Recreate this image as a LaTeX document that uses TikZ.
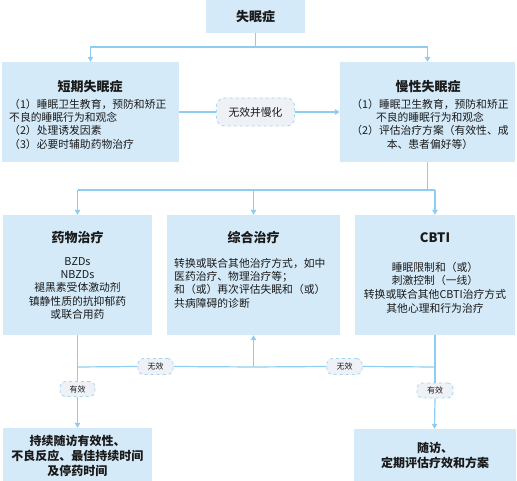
\documentclass[tikz,border=0pt]{standalone}
\usepackage{fontspec}
\setmainfont{Noto Sans CJK SC}
\usetikzlibrary{arrows.meta}
\definecolor{boxfill}{HTML}{D4EAF8}
\definecolor{linec}{HTML}{8FCCF2}
\definecolor{labfill}{HTML}{EEF2F6}
\definecolor{labdraw}{HTML}{A6D5F4}
\definecolor{txt}{HTML}{1A1A1A}
\begin{document}
\begin{tikzpicture}[x=1pt,y=-1pt,
  box/.style={fill=boxfill,draw=none,inner sep=0pt},
  ttl/.style={font=\fontsize{13}{15}\selectfont\bfseries,text=txt,inner sep=0pt},
  btm/.style={font=\fontsize{12}{15}\selectfont\bfseries,text=txt,inner sep=0pt,align=center},
  body/.style={font=\fontsize{10.8}{13.3}\selectfont,text=txt,inner sep=0pt},
  conn/.style={draw=linec,line width=1.2pt},
  arr/.style={conn,-{Triangle[length=5pt,width=5.5pt]}},
  lab/.style={fill=labfill,draw=labdraw,dashed,line width=0.8pt,inner sep=0pt,text=txt},
]
\path[use as bounding box] (0,0) rectangle (517,481);

% boxes
\node[box,ttl,minimum width=99pt,minimum height=33pt] (top) at (255.5,16.5) {失眠症};
\node[box,minimum width=177pt,minimum height=100pt] (short) at (90.5,112) {};
\node[box,minimum width=175pt,minimum height=100pt] (chronic) at (427.5,112) {};
\node[box,minimum width=149pt,minimum height=120pt] (drug) at (77.5,275) {};
\node[box,minimum width=173pt,minimum height=120pt] (comb) at (253.5,275) {};
\node[box,minimum width=160pt,minimum height=120pt] (cbti) at (435,275) {};
\node[box,minimum width=149pt,minimum height=53pt] (fl) at (77.5,454.5) {};
\node[box,minimum width=162pt,minimum height=52pt] (fr) at (434.5,455) {};

% titles and texts
\node[ttl] (shortT) at (90,87) {短期失眠症};
\node[body,align=left,anchor=west] (shortB) at (9,124) {（1）睡眠卫生教育，预防和矫正\\不良的睡眠行为和观念\\（2）处理诱发因素\\（3）必要时辅助药物治疗};
\node[ttl] (chronT) at (428,87) {慢性失眠症};
\node[body,align=center] (chronB) at (430,124) {（1）睡眠卫生教育，预防和矫正\\不良的睡眠行为和观念\\（2）评估治疗方案（有效性、成\\本、患者偏好等）};

\node[ttl] (drugT) at (77.5,238) {药物治疗};
\node[body,align=center] (drugB) at (77.5,288.5) {BZDs\\NBZDs\\褪黑素受体激动剂\\镇静性质的抗抑郁药\\或联合用药};
\node[ttl] (combT) at (253.5,238) {综合治疗};
\node[body,align=left,anchor=west] (combB) at (174,283) {转换或联合其他治疗方式，如中\\医药治疗、物理治疗等；\\和（或）再次评估失眠和（或）\\共病障碍的诊断};
\node[ttl] (cbtiT) at (435,238) {CBTI};
\node[body,align=center,font=\fontsize{10.8}{13.7}\selectfont] (cbtiB) at (435,287.5) {睡眠限制和（或）\\刺激控制（一线）\\转换或联合其他CBTI治疗方式\\其他心理和行为治疗};

\node[btm] (flT) at (77.5,456) {持续随访有效性、\\不良反应、最佳持续时间\\及停药时间};
\node[btm] (frT) at (435,455.5) {随访、\\定期评估疗效和方案};

% labels
\node[lab,rounded corners=8pt,minimum width=78pt,minimum height=28pt,font=\fontsize{10.8}{13}\selectfont] (lab1) at (255.5,112) {无效并慢化};
\node[lab,rounded corners=5pt,minimum width=35pt,minimum height=16pt,font=\fontsize{8}{10}\selectfont] (wx1) at (155.5,366.5) {无效};
\node[lab,rounded corners=5pt,minimum width=35pt,minimum height=16pt,font=\fontsize{8}{10}\selectfont] (wx2) at (344.5,366.5) {无效};
\node[lab,rounded corners=5pt,minimum width=35pt,minimum height=15pt,font=\fontsize{8}{10}\selectfont] (yx1) at (77.5,389) {有效};
\node[lab,rounded corners=5pt,minimum width=36pt,minimum height=15pt,font=\fontsize{8}{10}\selectfont] (yx2) at (435,390.5) {有效};

\coordinate (j1) at (255.5,47);
\coordinate (j2) at (429,190);
\coordinate (j3) at (253.5,367);

% connectors
\draw[conn] (top.south) -- (top.south |- j1);
\draw[arr] (top.south |- j1) -| (short.north);
\draw[arr] (top.south |- j1) -| (chronic.north);
\draw[conn] (short.east) -- (lab1.west);
\draw[arr] (lab1.east) -- (chronic.west);

\draw[conn] (chronic.south) -- (chronic.south |- j2);
\draw[conn] (drug.north |- j2) -- (cbti.north |- j2);
\draw[arr] (drug.north |- j2) -- (drug.north);
\draw[arr] (comb.north |- j2) -- (comb.north);
\draw[arr] (cbti.north |- j2) -- (cbti.north);

\draw[conn] (drug.south) -- (yx1.north);
\draw[arr] (yx1.south) -- (fl.north);
\draw[conn] (drug.south |- j3) -- (wx1.west);
\draw[conn] (wx1.east) -- (comb.south |- j3);
\draw[conn] (cbti.south |- j3) -- (wx2.east);
\draw[conn] (wx2.west) -- (comb.south |- j3);
\draw[arr] (comb.south |- j3) -- (comb.south);
\draw[conn] (cbti.south) -- (yx2.north);
\draw[arr] (yx2.south) -- (fr.north);
\end{tikzpicture}
\end{document}
